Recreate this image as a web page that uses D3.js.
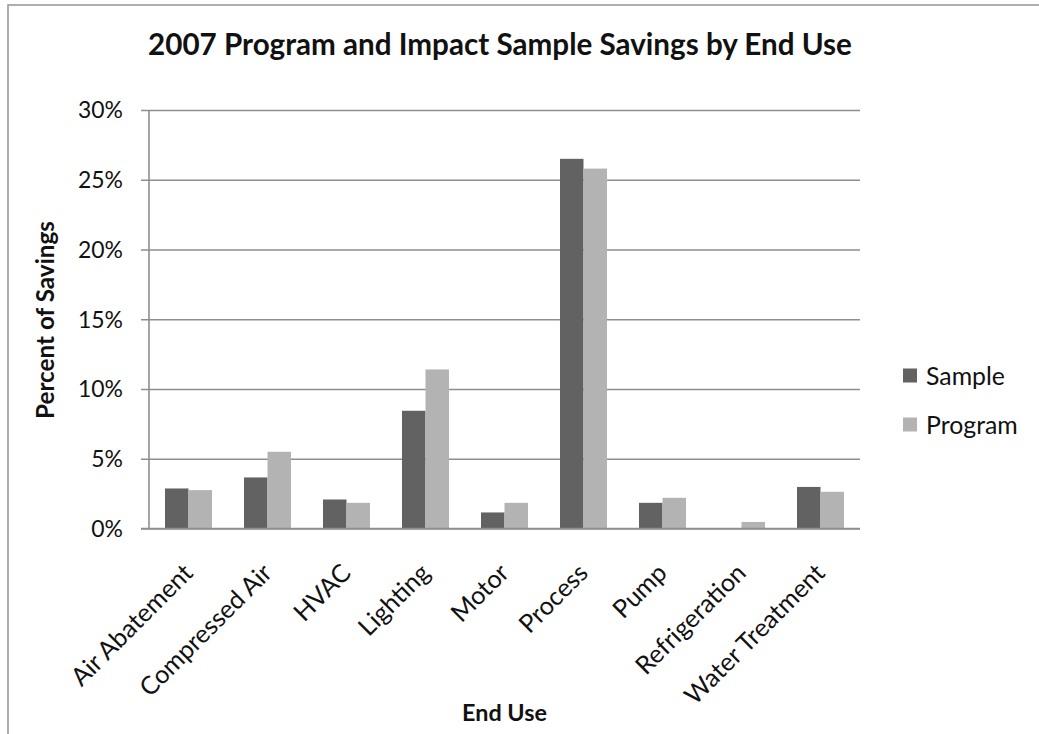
<!DOCTYPE html>
<html>
<head>
<meta charset="utf-8">
<script src="https://cdn.jsdelivr.net/npm/d3@7"></script>
<style>
  html, body { margin: 0; padding: 0; background: #fff; }
  svg { display: block; }
  text { font-family: Lato, "Open Sans", "DejaVu Sans", sans-serif; fill: #111; }
</style>
</head>
<body>
<svg id="chart" width="1039" height="734"></svg>
<script>
// End-use categories and the share of savings (%) for each series
const categories = ["Air Abatement", "Compressed Air", "HVAC", "Lighting", "Motor",
                    "Process", "Pump", "Refrigeration", "Water Treatment"];
const seriesNames = ["Sample", "Program"];
const sampleValues  = [2.87, 3.66, 2.08, 8.44, 1.15, 26.5, 1.84, 0.0, 2.98];
const programValues = [2.75, 5.50, 1.84, 11.4, 1.84, 25.8, 2.20, 0.47, 2.63];
const yTicks = [0, 5, 10, 15, 20, 25, 30];
const seriesColors = ["#626262", "#b3b3b3"];

const titleText = "2007 Program and Impact Sample Savings by End Use";
const yTitle = "Percent of Savings";
const xTitle = "End Use";

const svg = d3.select("#chart");

// Outer chart frame
svg.append("rect")
  .attr("x", 8).attr("y", 5)
  .attr("width", 1045).attr("height", 740)
  .attr("fill", "#fff")
  .attr("stroke", "#9a9a9a").attr("stroke-width", 1.6);

// Plot area
const plot = { left: 149, right: 860, top: 110, bottom: 528.5 };

const x0 = d3.scaleBand()
  .domain(categories)
  .range([plot.left, plot.right])
  .paddingInner(0.405)
  .paddingOuter(0.2025);

const x1 = d3.scaleBand()
  .domain(seriesNames)
  .range([0, x0.bandwidth()]);

const y = d3.scaleLinear()
  .domain([0, 30])
  .range([plot.bottom, plot.top]);

// Scale a text's font size so it spans the given width
function fitWidth(sel, width) {
  sel.each(function () {
    const n = d3.select(this);
    n.style("font-size", "100px");
    const w = this.getComputedTextLength();
    n.style("font-size", (100 * width / w) + "px");
  });
  return sel;
}
function fontSizeFor(str, width, weight) {
  const t = svg.append("text").text(str).style("font-weight", weight).style("font-size", "100px");
  const w = t.node().getComputedTextLength();
  t.remove();
  return 100 * width / w;
}

// Horizontal gridlines and y ticks
const yAxis = d3.axisLeft(y)
  .tickValues(yTicks)
  .tickSize(-(plot.right - plot.left))
  .tickSizeOuter(0)
  .tickPadding(0)
  .tickFormat(d => d + "%");

const gy = svg.append("g")
  .attr("transform", `translate(${plot.left},0)`)
  .call(yAxis);
gy.select(".domain").remove();
gy.selectAll(".tick line")
  .attr("x1", -8)
  .attr("stroke", "#8e8e8e")
  .attr("stroke-width", 1.6);

const tickFont = fontSizeFor("30%", 45, "normal");
gy.selectAll(".tick text")
  .attr("x", -26)
  .attr("dy", "0.34em")
  .attr("fill", "#111")
  .style("font-family", "Lato, 'Open Sans', sans-serif")
  .style("font-size", tickFont + "px");

// Vertical axis line
svg.append("line")
  .attr("x1", plot.left).attr("x2", plot.left)
  .attr("y1", plot.top).attr("y2", plot.bottom)
  .attr("stroke", "#8e8e8e").attr("stroke-width", 1.6);

// Bars
const rows = categories.map((c, i) => ({
  category: c,
  values: [
    { key: "Sample", value: sampleValues[i] },
    { key: "Program", value: programValues[i] }
  ]
}));

const groups = svg.append("g").selectAll("g")
  .data(rows)
  .join("g")
  .attr("transform", d => `translate(${x0(d.category)},0)`);

groups.selectAll("rect")
  .data(d => d.values)
  .join("rect")
  .attr("x", d => x1(d.key))
  .attr("y", d => y(d.value))
  .attr("width", x1.bandwidth())
  .attr("height", d => y(0) - y(d.value))
  .attr("fill", (d, i) => seriesColors[i]);

// Bottom axis line (drawn over bar bases)
svg.append("line")
  .attr("x1", plot.left - 8).attr("x2", plot.right)
  .attr("y1", plot.bottom).attr("y2", plot.bottom)
  .attr("stroke", "#8e8e8e").attr("stroke-width", 1.6);

// Category labels, rotated 45 degrees and ending at the category centre
const catFont = fontSizeFor("Air Abatement", 160, "normal");
svg.append("g").selectAll("text")
  .data(categories)
  .join("text")
  .attr("text-anchor", "end")
  .style("font-size", catFont + "px")
  .attr("transform", d => {
    const cx = x0(d) + x0.bandwidth() / 2 + 6;
    return `translate(${cx},${plot.bottom + 46}) rotate(-45)`;
  })
  .text(d => d);

// Chart title
fitWidth(svg.append("text")
  .attr("x", 500).attr("y", 55)
  .attr("text-anchor", "middle")
  .style("font-weight", "bold")
  .text(titleText), 704);

// Y axis title
fitWidth(svg.append("text")
  .attr("transform", `translate(54,320) rotate(-90)`)
  .attr("text-anchor", "middle")
  .style("font-weight", "bold")
  .text(yTitle), 198);

// X axis title
fitWidth(svg.append("text")
  .attr("x", 504.5).attr("y", 721)
  .attr("text-anchor", "middle")
  .style("font-weight", "bold")
  .text(xTitle), 85);

// Legend
const legendFont = fontSizeFor("Sample", 79, "normal");
const legend = svg.append("g").selectAll("g")
  .data(seriesNames)
  .join("g")
  .attr("transform", (d, i) => `translate(903,${376 + i * 49})`);
legend.append("rect")
  .attr("x", 0).attr("y", -7.5)
  .attr("width", 14).attr("height", 14)
  .attr("fill", (d, i) => seriesColors[i]);
legend.append("text")
  .attr("x", 23).attr("y", 0)
  .attr("dy", "0.35em")
  .style("font-size", legendFont + "px")
  .text(d => d);
</script>
</body>
</html>
